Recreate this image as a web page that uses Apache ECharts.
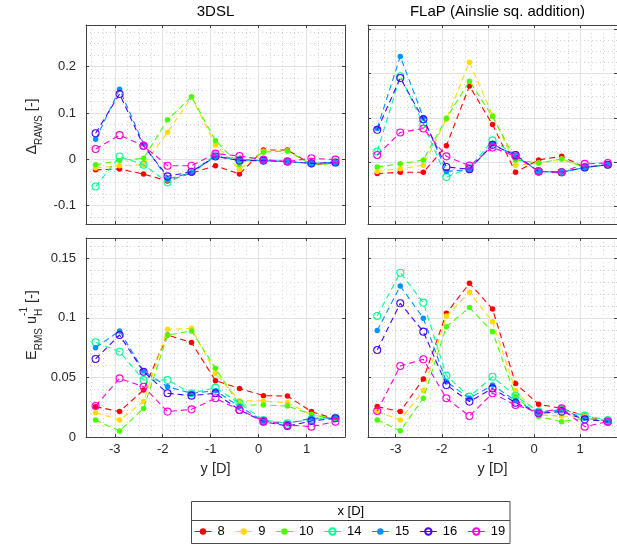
<!DOCTYPE html>
<html><head><meta charset="utf-8">
<script src="https://cdn.jsdelivr.net/npm/echarts@6/dist/echarts.min.js"></script>
<style>html,body{margin:0;padding:0;background:#fff}#c{width:617px;height:545px}</style>
</head><body><div id="c"></div>
<script>
// x positions (y [D])
const yD = [-3.4, -2.9, -2.4, -1.9, -1.4, -0.9, -0.4, 0.1, 0.6, 1.1, 1.6];
// legend entries (x [D])
const xLabels = ['8', '9', '10', '14', '15', '16', '19'];
const xTicks = [-3, -2, -1, 0, 1];
const topTicks = [-0.1, 0, 0.1, 0.2];
const bottomTicks = [0, 0.05, 0.1, 0.15];

// Delta_RAWS, 3DSL
const raws3DSL_8  = [-0.023, -0.021, -0.032, -0.047, -0.030, -0.014, -0.032, 0.020, 0.020, -0.011, -0.009];
const raws3DSL_9  = [-0.019, -0.014, -0.012, 0.058, 0.134, 0.031, -0.022, 0.017, 0.018, -0.011, -0.009];
const raws3DSL_10 = [-0.012, -0.003, 0.002, 0.085, 0.135, 0.040, -0.012, 0.015, 0.018, -0.012, -0.009];
const raws3DSL_14 = [-0.059, 0.006, -0.012, -0.050, -0.027, 0.009, -0.001, -0.003, -0.005, -0.009, -0.007];
const raws3DSL_15 = [0.043, 0.151, 0.033, -0.043, -0.029, 0.006, -0.001, -0.003, -0.005, -0.009, -0.007];
const raws3DSL_16 = [0.056, 0.141, 0.029, -0.037, -0.027, 0.006, -0.003, -0.003, -0.005, -0.009, -0.007];
const raws3DSL_19 = [0.022, 0.052, 0.029, -0.014, -0.014, 0.012, 0.007, -0.001, -0.005, 0.002, -0.001];

// Delta_RAWS, FLaP
const rawsFLaP_8  = [-0.026, -0.023, -0.023, 0.037, 0.172, 0.085, -0.023, 0.005, 0.013, -0.012, -0.006];
const rawsFLaP_9  = [-0.021, -0.015, -0.007, 0.097, 0.226, 0.106, -0.007, -0.002, 0.007, -0.012, -0.006];
const rawsFLaP_10 = [-0.011, -0.004, 0.005, 0.099, 0.183, 0.103, 0.005, -0.002, 0.007, -0.012, -0.006];
const rawsFLaP_14 = [0.024, 0.194, 0.086, -0.034, -0.013, 0.049, 0.016, -0.021, -0.023, -0.012, -0.006];
const rawsFLaP_15 = [0.076, 0.239, 0.101, -0.021, -0.017, 0.041, 0.014, -0.021, -0.023, -0.012, -0.006];
const rawsFLaP_16 = [0.073, 0.190, 0.097, -0.011, -0.016, 0.039, 0.016, -0.021, -0.023, -0.012, -0.006];
const rawsFLaP_19 = [0.016, 0.067, 0.076, 0.013, -0.008, 0.033, 0.013, -0.021, -0.023, -0.004, -0.002];

// E_RMS / u_H, 3DSL
const erms3DSL_8  = [0.0255, 0.0213, 0.0395, 0.0856, 0.0792, 0.0473, 0.0408, 0.0347, 0.0344, 0.0213, 0.0151];
const erms3DSL_9  = [0.0204, 0.0143, 0.0297, 0.0904, 0.0912, 0.0534, 0.0305, 0.0302, 0.0288, 0.0185, 0.0151];
const erms3DSL_10 = [0.0143, 0.0050, 0.0240, 0.0856, 0.0890, 0.0576, 0.0269, 0.0269, 0.0260, 0.0190, 0.0148];
const erms3DSL_14 = [0.0795, 0.0716, 0.0478, 0.0478, 0.0367, 0.0414, 0.0283, 0.0143, 0.0115, 0.0148, 0.0162];
const erms3DSL_15 = [0.0750, 0.0890, 0.0554, 0.0422, 0.0367, 0.0389, 0.0255, 0.0134, 0.0115, 0.0157, 0.0162];
const erms3DSL_16 = [0.0655, 0.0856, 0.0548, 0.0367, 0.0347, 0.0367, 0.0227, 0.0129, 0.0092, 0.0134, 0.0157];
const erms3DSL_19 = [0.0260, 0.0492, 0.0422, 0.0213, 0.0232, 0.0325, 0.0227, 0.0134, 0.0101, 0.0087, 0.0129];

// E_RMS / u_H, FLaP
const ermsFLaP_8  = [0.0255, 0.0213, 0.0487, 0.1038, 0.1290, 0.1074, 0.0450, 0.0274, 0.0240, 0.0176, 0.0129];
const ermsFLaP_9  = [0.0213, 0.0143, 0.0389, 0.1016, 0.1214, 0.0968, 0.0389, 0.0185, 0.0176, 0.0171, 0.0129];
const ermsFLaP_10 = [0.0143, 0.0053, 0.0325, 0.0926, 0.1086, 0.0884, 0.0339, 0.0171, 0.0129, 0.0157, 0.0129];
const ermsFLaP_14 = [0.1016, 0.1379, 0.1128, 0.0515, 0.0339, 0.0506, 0.0344, 0.0213, 0.0232, 0.0179, 0.0143];
const ermsFLaP_15 = [0.0893, 0.1267, 0.0996, 0.0464, 0.0325, 0.0436, 0.0305, 0.0204, 0.0227, 0.0157, 0.0137];
const ermsFLaP_16 = [0.0730, 0.1122, 0.0884, 0.0436, 0.0297, 0.0408, 0.0288, 0.0199, 0.0213, 0.0148, 0.0129];
const ermsFLaP_19 = [0.0218, 0.0596, 0.0652, 0.0325, 0.0176, 0.0367, 0.0269, 0.0204, 0.0240, 0.0087, 0.0129];

const FONT = "'Liberation Sans', Arial, Helvetica, sans-serif";
const colors = ['#FF0000', '#FFDB00', '#49FF00', '#00FF92', '#0092FF', '#4900FF', '#FF00DB'];
const openMarker = [false, false, false, true, false, true, true];
const AX = '#404040', TXT = '#262626';
const MINOR = { show: true, lineStyle: { color: '#d2d2d2', width: 1, type: [1, 3] } };

const panels = [
  { data: [raws3DSL_8, raws3DSL_9, raws3DSL_10, raws3DSL_14, raws3DSL_15, raws3DSL_16, raws3DSL_19],
    grid: { left: 86, top: 25, width: 259, height: 199 }, ymin: -0.14, ymax: 0.29, ystep: 0.1, yminor: 0.025, xlab: false, ylab: true },
  { data: [rawsFLaP_8, rawsFLaP_9, rawsFLaP_10, rawsFLaP_14, rawsFLaP_15, rawsFLaP_16, rawsFLaP_19],
    grid: { left: 368, top: 25, width: 259, height: 199 }, ymin: -0.14, ymax: 0.31, ystep: 0.1, yminor: 0.025, xlab: false, ylab: false },
  { data: [erms3DSL_8, erms3DSL_9, erms3DSL_10, erms3DSL_14, erms3DSL_15, erms3DSL_16, erms3DSL_19],
    grid: { left: 86, top: 238, width: 259, height: 199 }, ymin: 0, ymax: 0.167, ystep: 0.05, yminor: 0.01, xlab: true, ylab: true },
  { data: [ermsFLaP_8, ermsFLaP_9, ermsFLaP_10, ermsFLaP_14, ermsFLaP_15, ermsFLaP_16, ermsFLaP_19],
    grid: { left: 368, top: 238, width: 259, height: 199 }, ymin: 0, ymax: 0.167, ystep: 0.05, yminor: 0.01, xlab: true, ylab: false }
];

const grids = [], xAxes = [], yAxes = [], series = [];
panels.forEach((p, g) => {
  grids.push(Object.assign({ containLabel: false, show: false }, p.grid));
  const tick = { show: true, inside: true, length: 3, lineStyle: { color: AX, width: 1 } };
  const line = { show: true, onZero: false, lineStyle: { color: AX, width: 1 } };
  // x: primary (bottom)
  xAxes.push({ gridIndex: g, type: 'value', position: 'bottom', min: -3.6, max: 1.8, minInterval: 1, maxInterval: 1,
    axisLine: line, axisTick: tick, z: 3,
    axisLabel: { show: p.xlab, fontSize: 13, color: TXT, fontFamily: FONT, margin: 6, showMinLabel: false, showMaxLabel: false,
      formatter: v => xTicks.indexOf(Math.round(v * 1000) / 1000) >= 0 ? String(Math.round(v)) : '' },
    splitLine: { show: true, lineStyle: { color: '#e2e2e2', width: 1 } },
    name: p.xlab ? 'y [D]' : '', nameLocation: 'middle', nameGap: 24,
    nameTextStyle: { fontSize: 14.5, color: TXT, fontFamily: FONT } });
  // x: top border
  xAxes.push({ gridIndex: g, type: 'value', position: 'top', min: -3.6, max: 1.8, minInterval: 1, maxInterval: 1,
    axisLine: line, axisTick: tick, axisLabel: { show: false }, splitLine: { show: false }, z: 3 });
  // x: minor grid
  xAxes.push({ gridIndex: g, type: 'value', position: 'bottom', min: -3.6, max: 1.8, minInterval: 0.25, maxInterval: 0.25,
    axisLine: { show: false }, axisTick: { show: false }, axisLabel: { show: false }, z: 0, splitLine: MINOR });
  // y: primary (left)
  yAxes.push({ gridIndex: g, type: 'value', position: 'left', min: p.ymin, max: p.ymax, minInterval: p.ystep, maxInterval: p.ystep,
    axisLine: line, axisTick: tick, z: 3,
    axisLabel: { show: p.ylab, fontSize: 13, color: TXT, fontFamily: FONT, margin: 10, showMinLabel: p.ymin === 0, showMaxLabel: false,
      formatter: v => String(Math.round(v * 1000) / 1000) },
    splitLine: { show: true, lineStyle: { color: '#e2e2e2', width: 1 } } });
  // y: right border
  yAxes.push({ gridIndex: g, type: 'value', position: 'right', min: p.ymin, max: p.ymax, minInterval: p.ystep, maxInterval: p.ystep,
    axisLine: line, axisTick: tick, axisLabel: { show: false }, splitLine: { show: false }, z: 3 });
  // y: minor grid
  yAxes.push({ gridIndex: g, type: 'value', position: 'left', min: p.ymin, max: p.ymax, minInterval: p.yminor, maxInterval: p.yminor,
    axisLine: { show: false }, axisTick: { show: false }, axisLabel: { show: false }, z: 0, splitLine: MINOR });

  p.data.forEach((arr, k) => {
    const c = colors[k];
    series.push({
      type: 'line', name: xLabels[k], xAxisIndex: 3 * g, yAxisIndex: 3 * g,
      data: yD.map((x, i) => [x, arr[i]]),
      symbol: 'circle', symbolSize: openMarker[k] ? 7 : 5.5, showSymbol: true,
      lineStyle: { color: c, width: 1.1, type: [6, 4] },
      itemStyle: openMarker[k] ? { color: 'rgba(255,255,255,0)', borderColor: c, borderWidth: 1.1 } : { color: c, borderWidth: 0 },
      emphasis: { disabled: true }, animation: false, z: 5 + k
    });
  });
});

// rotated y-axis labels with sub/superscripts
const mctx = document.createElement('canvas').getContext('2d');
function tw(t, s) { mctx.font = s + 'px ' + FONT; return mctx.measureText(t).width; }
function yLabel(parts, cx, cy) {
  let total = 0;
  parts.forEach(pt => { const items = pt.stack || [pt]; pt.w = Math.max(...items.map(it => tw(it.t, it.s))); total += pt.w; });
  const children = [];
  let off = 0;
  parts.forEach(pt => {
    (pt.stack || [pt]).forEach(it => children.push({ type: 'text', x: off, y: it.dy,
      style: { text: it.t, fontSize: it.s, fontFamily: FONT, fill: TXT, align: 'left', verticalAlign: 'middle',
               textAlign: 'left', textVerticalAlign: 'middle' } }));
    off += pt.w;
  });
  return { type: 'group', x: cx, y: cy + total / 2, rotation: Math.PI / 2, children };
}

const option = {
  animation: false,
  backgroundColor: '#fff',
  textStyle: { fontFamily: FONT },
  title: [
    { text: '3DSL', left: 215.5, top: 4, textAlign: 'center', padding: 0,
      textStyle: { fontSize: 15, fontWeight: 'normal', color: '#000', fontFamily: FONT } },
    { text: 'FLaP (Ainslie sq. addition)', left: 497.5, top: 4, textAlign: 'center', padding: 0,
      textStyle: { fontSize: 15, fontWeight: 'normal', color: '#000', fontFamily: FONT } }
  ],
  grid: grids, xAxis: xAxes, yAxis: yAxes, series,
  legend: {
    data: xLabels, left: 194, top: 525, padding: 0, itemWidth: 17, itemHeight: 8, itemGap: 10,
    selectedMode: false, lineStyle: { type: 'solid', width: 1 },
    textStyle: { fontSize: 13, color: '#000', fontFamily: FONT, padding: [0, 0, 0, 1] }
  },
  graphic: [
    { type: 'rect', shape: { x: 191.5, y: 501.5, width: 318.5, height: 42 }, z: -1,
      style: { fill: 'rgba(255,255,255,0)', stroke: '#4a4a4a', lineWidth: 1 } },
    { type: 'line', shape: { x1: 191.5, y1: 520.5, x2: 510, y2: 520.5 }, style: { stroke: '#4a4a4a', lineWidth: 1 } },
    { type: 'text', x: 350.8, y: 511.5, style: { text: 'x [D]', fontSize: 13, fontFamily: FONT, fill: '#000',
      align: 'center', verticalAlign: 'middle', textAlign: 'center', textVerticalAlign: 'middle' } },
    yLabel([{ t: 'Δ', s: 14.5, dy: 0 }, { t: 'RAWS', s: 10, dy: 7 }, { t: ' [-]', s: 14.5, dy: 0 }], 32, 126.5),
    yLabel([{ t: 'E', s: 14.5, dy: 0 }, { t: 'RMS', s: 10, dy: 7 }, { t: ' u', s: 14.5, dy: 0 },
            { stack: [{ t: '-1', s: 10, dy: -8 }, { t: 'H', s: 10, dy: 7 }] }, { t: ' [-]', s: 14.5, dy: 0 }], 32, 325)
  ]
};
echarts.init(document.getElementById('c'), null, { renderer: 'canvas' }).setOption(option);
</script></body></html>
